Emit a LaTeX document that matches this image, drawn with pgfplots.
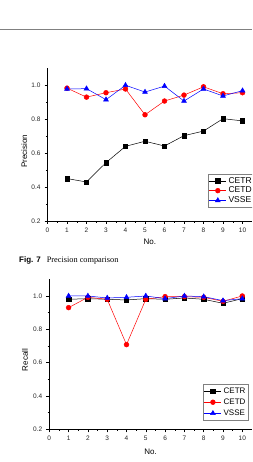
\documentclass[border=0pt]{standalone}
\usepackage{pgfplots}
\pgfplotsset{compat=1.18}
\usepackage{fontspec}
\setmainfont{Liberation Serif}
\setsansfont{Liberation Sans}
\newfontfamily\arial{Liberation Sans}

\pgfplotstableread{
x cetr cetd vsse
1 0.450 0.983 0.978
2 0.430 0.930 0.980
3 0.544 0.956 0.915
4 0.640 0.978 1.000
5 0.670 0.826 0.960
6 0.642 0.907 0.995
7 0.703 0.942 0.907
8 0.730 0.991 0.978
9 0.803 0.950 0.937
10 0.790 0.956 0.968
}\precisiondata

\pgfplotstableread{
x cetr cetd vsse
1 0.980 0.930 1.000
2 0.984 0.992 1.000
3 0.980 0.980 0.988
4 0.976 0.708 0.992
5 0.984 0.980 1.000
6 0.980 0.996 0.984
7 0.988 0.996 1.000
8 0.980 0.992 0.996
9 0.956 0.968 0.972
10 0.984 1.000 0.984
}\recalldata

\pgfplotsset{
  mystyle/.style={
    scale only axis,
    axis x line*=bottom, axis y line*=left,
    xmin=0, xmax=10.5, ymin=0.2, ymax=1.1,
    xtick={0,1,2,3,4,5,6,7,8,9,10},
    ytick={0.2,0.4,0.6,0.8,1.0},
    minor x tick num=1, minor y tick num=1,
    tick align=outside,
    major tick length=3pt, minor tick length=1.6pt,
    tick style={black, line width=0.5pt},
    axis line style={black, line width=0.6pt},
    /pgf/number format/assume math mode=true,
    ticklabel style={font=\arial\fontsize{6.5}{7}\selectfont, text=black!85},
    yticklabel style={/pgf/number format/fixed, /pgf/number format/fixed zerofill, /pgf/number format/precision=1, xshift=-0.5pt},
    xticklabel style={yshift=-0.5pt},
    label style={font=\arial\fontsize{8}{9}\selectfont},
    xlabel={No.},
    clip=false,
    legend cell align=left,
    legend image code/.code={\draw[mark repeat=2,mark phase=2] plot coordinates {(0pt,0pt)(8.5pt,0pt)(17pt,0pt)};},
  },
  cetr/.style={black, line width=0.5pt, mark=square*, mark size=2.2pt, mark options={solid, fill=black}},
  cetd/.style={red, line width=0.5pt, mark=*, mark size=2.4pt, mark options={solid, fill=red}},
  vsse/.style={blue, line width=0.5pt, mark=triangle*, mark size=2.8pt, mark options={solid, fill=blue}},
}

\begin{document}
\begin{tikzpicture}[x=1pt,y=1pt]
\useasboundingbox (0,0) rectangle (252,462);
\clip (0,0) rectangle (252,462);
\fill[white] (0,0) rectangle (252,462);
\draw[gray, line width=0.8pt] (0,432.7) -- (252,432.7);

\begin{axis}[mystyle,
  at={(47.5pt,241pt)}, anchor=south west,
  width=204.75pt, height=152.7pt,
  ylabel={Precision},
  xlabel style={at={(axis description cs:0.5,-0.1375)}, anchor=center},
  ylabel style={at={(axis description cs:-0.113,0.455)}, anchor=center},
  legend style={at={(rel axis cs:0.783,0.09)}, anchor=south west,
    font=\arial\fontsize{8.5}{8.3}\selectfont, draw=gray, line width=0.5pt,
    inner xsep=1pt, inner ysep=0.8pt, row sep=-1.6pt},
]
\addplot[cetr] table[x=x,y=cetr] {\precisiondata};
\addplot[cetd] table[x=x,y=cetd] {\precisiondata};
\addplot[vsse] table[x=x,y=vsse] {\precisiondata};
\legend{CETR,CETD,VSSE}
\end{axis}

\node[anchor=west, inner sep=0pt] at (19,202) {{\arial\bfseries\fontsize{8}{9}\selectfont Fig. 7}\hspace{0.6em}{\fontsize{8.3}{9}\selectfont Precision comparison}};

\begin{axis}[mystyle,
  at={(49.3pt,32.7pt)}, anchor=south west,
  width=202.65pt, height=150pt,
  ylabel={Recall},
  xlabel style={at={(axis description cs:0.5,-0.149)}, anchor=center},
  ylabel style={at={(axis description cs:-0.12,0.462)}, anchor=center},
  legend style={at={(rel axis cs:0.758,0.06)}, anchor=south west,
    font=\arial\fontsize{8}{9}\selectfont, draw=gray, line width=0.5pt,
    inner xsep=1pt, inner ysep=1.2pt, row sep=0pt},
]
\addplot[cetr] table[x=x,y=cetr] {\recalldata};
\addplot[cetd] table[x=x,y=cetd] {\recalldata};
\addplot[vsse] table[x=x,y=vsse] {\recalldata};
\legend{CETR,CETD,VSSE}
\end{axis}
\end{tikzpicture}
\end{document}
